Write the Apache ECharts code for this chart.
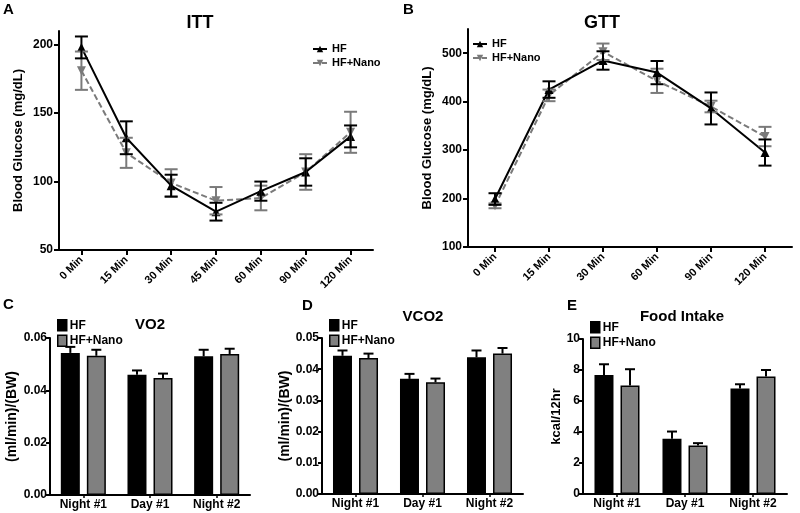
<!DOCTYPE html>
<html><head><meta charset="utf-8">
<script src="https://cdn.jsdelivr.net/npm/echarts@6/dist/echarts.min.js"></script>
<style>html,body{margin:0;padding:0;background:#fff}#c{width:800px;height:513px}</style>
</head><body><div id="c"></div>
<script>
// ---- data ----
const timeA = ['0 Min','15 Min','30 Min','45 Min','60 Min','90 Min','120 Min'];
const ittHF = [198,132,97,78,93,107,133];
const ittHFErr = [8,12,8,6.5,7,10,8];
const ittNano = [181,121,99,86,88,107,136];
const ittNanoErr = [14,11,10,10,9,13,15];
const timeB = ['0 Min','15 Min','30 Min','60 Min','90 Min','120 Min'];
const gttHF = [199,425,485,460,386,295];
const gttHFErr = [12,17,19,24,33,27];
const gttNano = [185,413,503,443,390,328];
const gttNanoErr = [5,12,17,25,12,20];
const periods = ['Night #1','Day #1','Night #2'];
const vo2HF = [0.0543,0.0460,0.0530];
const vo2HFErr = [0.0023,0.0016,0.0025];
const vo2Nano = [0.0532,0.0447,0.0539];
const vo2NanoErr = [0.0023,0.0017,0.0020];
const vco2HF = [0.0443,0.0369,0.0438];
const vco2HFErr = [0.0017,0.0016,0.0022];
const vco2Nano = [0.0436,0.0358,0.0450];
const vco2NanoErr = [0.0014,0.0012,0.0018];
const foodHF = [7.68,3.56,6.80];
const foodHFErr = [0.69,0.47,0.28];
const foodNano = [7.00,3.13,7.58];
const foodNanoErr = [1.05,0.15,0.42];
const ticksA = [50,100,150,200];
const ticksB = [100,200,300,400,500];

// ---- styles ----
const FF = '"Liberation Sans", Arial, sans-serif';
const BLACK = '#000';
const GRAY = '#7a7a7a';
const BARGRAY = '#808080';
const ZW = '\u200b';
const axLine = {show:true, onZero:false, lineStyle:{color:BLACK, width:2}};
const lbl = (size, extra) => Object.assign({color:BLACK, fontSize:size, fontWeight:'bold', fontFamily:FF}, extra||{});

function errSeries(xi, vals, errs, color, both, offset, capW) {
  return {
    type:'custom', xAxisIndex:xi, yAxisIndex:xi, silent:true, z:6,
    encode:{x:0, y:[1,2]},
    data: vals.map((v,i)=>[i, both ? v-errs[i] : v, v+errs[i]]),
    renderItem(params, api){
      const i = api.value(0);
      const lo = api.coord([i, api.value(1)]);
      const hi = api.coord([i, api.value(2)]);
      const x = lo[0] + offset, hw = capW/2;
      const st = {stroke:color, lineWidth:2};
      const ch = [
        {type:'line', shape:{x1:x, y1:lo[1], x2:x, y2:hi[1]}, style:st},
        {type:'line', shape:{x1:x-hw, y1:hi[1], x2:x+hw, y2:hi[1]}, style:st}
      ];
      if (both) ch.push({type:'line', shape:{x1:x-hw, y1:lo[1], x2:x+hw, y2:lo[1]}, style:st});
      return {type:'group', children:ch};
    }
  };
}

function lineX(gi, data){
  return {gridIndex:gi, type:'category', data:data, boundaryGap:true,
    axisLine:axLine, axisTick:{show:true, alignWithLabel:true, length:5, lineStyle:{color:BLACK, width:2}},
    axisLabel:lbl(11,{rotate:45, margin:8, interval:0}), splitLine:{show:false}};
}
function barX(gi){
  return {gridIndex:gi, type:'category', data:periods, boundaryGap:true,
    axisLine:axLine, axisTick:{show:true, alignWithLabel:true, length:3, lineStyle:{color:BLACK, width:1.5}},
    axisLabel:lbl(12,{margin:4, interval:0}), splitLine:{show:false}};
}
function valY(gi, min, max, opts){
  return Object.assign({gridIndex:gi, type:'value', min:min, max:max,
    axisLine:axLine, axisTick:{show:true, length:4, lineStyle:{color:BLACK, width:2}},
    splitLine:{show:false}, nameLocation:'middle', nameRotate:90,
    nameTextStyle:lbl(13)}, opts);
}

const barBase = {barWidth:19, barGap:'37%'};
function bars(gi, hf, nano){
  return [
    Object.assign({type:'bar', name:'HF'+ZW, xAxisIndex:gi, yAxisIndex:gi, data:hf,
      itemStyle:{color:BLACK, borderColor:BLACK, borderWidth:1.5}, z:3}, barBase),
    Object.assign({type:'bar', name:'HF+Nano'+ZW, xAxisIndex:gi, yAxisIndex:gi, data:nano,
      itemStyle:{color:BARGRAY, borderColor:BLACK, borderWidth:1.5}, z:3}, barBase)
  ];
}
function barLegend(left, top){
  return {data:['HF'+ZW,'HF+Nano'+ZW], orient:'vertical', left:left, top:top, padding:0,
    icon:'rect', itemWidth:9, itemHeight:11, itemGap:3, selectedMode:false,
    itemStyle:{borderColor:BLACK, borderWidth:1.5},
    formatter: n => n.replace(ZW,''),
    textStyle:lbl(12,{lineHeight:12, padding:[0,0,0,-2]})};
}
function lineLegend(left, top){
  return {data:['HF','HF+Nano'], orient:'vertical', left:left, top:top, padding:0,
    itemWidth:14, itemHeight:8, itemGap:2, selectedMode:false,
    textStyle:lbl(11,{lineHeight:12})};
}
function txt(x, y, s, size, align){
  return {type:'text', x:x, y:y, style:{text:s, fill:BLACK, font:'bold '+size+'px '+FF,
    textAlign:align||'center', textVerticalAlign:'middle'}};
}

const option = {
  animation:false,
  backgroundColor:'#fff',
  textStyle:{fontFamily:FF},
  grid:[
    {left:59, top:31, width:314, height:219},
    {left:468, top:29, width:324, height:218},
    {left:50, top:338, width:200, height:157},
    {left:322, top:338, width:201, height:156},
    {left:583, top:339, width:204, height:155}
  ],
  xAxis:[lineX(0,timeA), lineX(1,timeB), barX(2), barX(3), barX(4)],
  yAxis:[
    valY(0,50,210,{axisTick:{show:true, length:5, customValues:ticksA, lineStyle:{color:BLACK,width:2}},
      axisLabel:lbl(12,{customValues:ticksA, margin:6}), name:'Blood Glucose (mg/dL)', nameGap:34}),
    valY(1,100,550,{axisTick:{show:true, length:5, customValues:ticksB, lineStyle:{color:BLACK,width:2}},
      axisLabel:lbl(12,{customValues:ticksB, margin:6}), name:'Blood Glucose (mg/dL)', nameGap:34}),
    valY(2,0,0.06,{interval:0.02, axisLabel:lbl(12,{margin:3, formatter:v=>v.toFixed(2)}),
      name:'(ml/min)/(BW)', nameGap:31, nameTextStyle:lbl(14)}),
    valY(3,0,0.05,{interval:0.01, axisLabel:lbl(12,{margin:3, formatter:v=>v.toFixed(2)}),
      name:'(ml/min)/(BW)', nameGap:29, nameTextStyle:lbl(14)}),
    valY(4,0,10,{interval:2, axisLabel:lbl(12,{margin:3}),
      name:'kcal/12hr', nameGap:19, nameTextStyle:lbl(13)})
  ],
  legend:[lineLegend(312,43), lineLegend(472,38), barLegend(57,319), barLegend(329,319), barLegend(590,321)],
  graphic:[
    txt(3,10,'A',15,'left'), txt(200,23,'ITT',18),
    txt(403,10,'B',15,'left'), txt(602,23,'GTT',18),
    txt(3,305,'C',15,'left'), txt(150,325,'VO2',15),
    txt(302,306,'D',15,'left'), txt(423,317,'VCO2',15),
    txt(567,306,'E',15,'left'), txt(682,317,'Food Intake',15)
  ],
  series:[
    errSeries(0, ittNano, ittNanoErr, GRAY, true, 0, 13),
    errSeries(0, ittHF, ittHFErr, BLACK, true, 0, 13),
    {type:'line', name:'HF', xAxisIndex:0, yAxisIndex:0, data:ittHF, symbol:'triangle', symbolSize:9,
      itemStyle:{color:BLACK}, lineStyle:{color:BLACK, width:2}, z:5},
    {type:'line', name:'HF+Nano', xAxisIndex:0, yAxisIndex:0, data:ittNano, symbol:'triangle', symbolRotate:180, symbolSize:9,
      itemStyle:{color:GRAY}, lineStyle:{color:GRAY, width:2, type:[6,3]}, z:4},
    errSeries(1, gttNano, gttNanoErr, GRAY, true, 0, 13),
    errSeries(1, gttHF, gttHFErr, BLACK, true, 0, 13),
    {type:'line', name:'HF', xAxisIndex:1, yAxisIndex:1, data:gttHF, symbol:'triangle', symbolSize:9,
      itemStyle:{color:BLACK}, lineStyle:{color:BLACK, width:2}, z:5},
    {type:'line', name:'HF+Nano', xAxisIndex:1, yAxisIndex:1, data:gttNano, symbol:'triangle', symbolRotate:180, symbolSize:9,
      itemStyle:{color:GRAY}, lineStyle:{color:GRAY, width:2, type:[6,3]}, z:4},
    ...bars(2, vo2HF, vo2Nano),
    errSeries(2, vo2HF, vo2HFErr, BLACK, false, -13, 10),
    errSeries(2, vo2Nano, vo2NanoErr, BLACK, false, 13, 10),
    ...bars(3, vco2HF, vco2Nano),
    errSeries(3, vco2HF, vco2HFErr, BLACK, false, -13, 10),
    errSeries(3, vco2Nano, vco2NanoErr, BLACK, false, 13, 10),
    ...bars(4, foodHF, foodNano),
    errSeries(4, foodHF, foodHFErr, BLACK, false, -13, 10),
    errSeries(4, foodNano, foodNanoErr, BLACK, false, 13, 10)
  ]
};
const chart = echarts.init(document.getElementById('c'), null, {renderer:'canvas'});
chart.setOption(option);
</script>
</body></html>
